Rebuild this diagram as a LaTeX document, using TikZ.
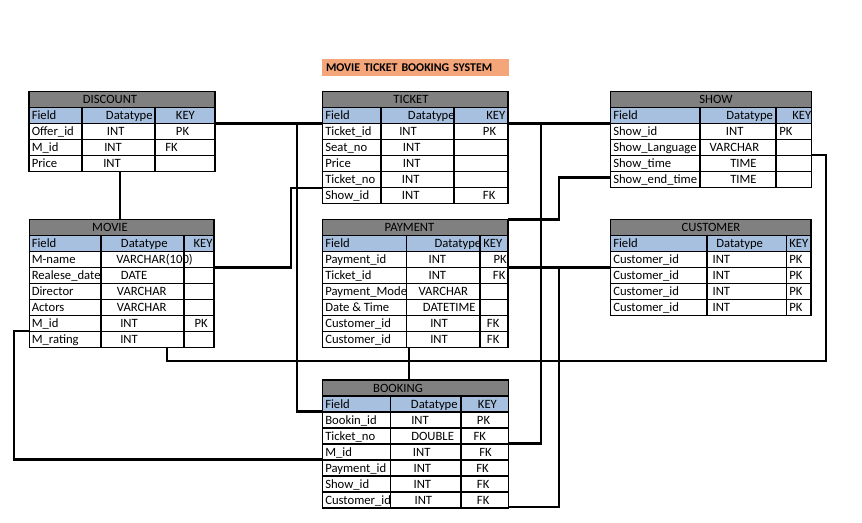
\documentclass[tikz,border=0pt]{standalone}
\usepackage{fontspec}
\setmainfont{Carlito}
\usetikzlibrary{fit}

\definecolor{titlegray}{HTML}{808080}
\definecolor{headblue}{HTML}{A8C0DF}
\definecolor{bannersalmon}{HTML}{F4A57A}

\tikzset{
  grid/.style={draw=black, line width=0.8pt},
  link/.style={draw=black, line width=1.6pt, line join=miter},
  celltext/.style={anchor=west, inner sep=0pt, font=\fontsize{9.5}{10}\selectfont,
    text height=7.6pt, text depth=1.5pt},
  tabletitle/.style={celltext, anchor=center},
  banner/.style={fill=bannersalmon, minimum width=140.25pt, minimum height=12.75pt,
    inner xsep=3pt, inner ysep=0pt, text width=134.25pt, align=left,
    font=\fontsize{8.9}{10}\selectfont\bfseries},
}

% #1 name, #2 title, #3 title centre x, #4 left, #5 first divider,
% #6 second divider, #7 right, #8 top, #9 number of data rows
\newcommand{\dbtable}[9]{%
  \pgfmathsetmacro{\tbot}{#8+32+16*#9}
  \fill[titlegray] (#4,#8) rectangle (#7,#8+16);
  \fill[headblue] (#4,#8+16) rectangle (#7,#8+32);
  \foreach \r in {0,...,#9} \draw[grid] (#4,#8+16+16*\r) -- (#7,#8+16+16*\r);
  \draw[grid] (#5,#8+16) -- (#5,\tbot);
  \draw[grid] (#6,#8+16) -- (#6,\tbot);
  \draw[grid] (#4,#8) rectangle (#7,\tbot);
  \node[fit={(#4,#8) (#7,\tbot)}, inner sep=0pt] (#1) {};
  \node[tabletitle] (#1-title) at (#3,#8+8) {#2};
}

% one line of a table: y, field x, field, type x, type, key x, key
\newcommand{\rowtext}[7]{%
  \node[celltext] at (#2,#1) {#3};
  \node[celltext] at (#4,#1) {#5};
  \node[celltext] at (#6,#1) {#7};
}

\begin{document}
\begin{tikzpicture}[x=0.75pt, y=-0.75pt]
\useasboundingbox (0,0) rectangle (862,522);

\node[banner] (banner) at (415.5,67.5) {MOVIE TICKET BOOKING SYSTEM};

% ---------- tables ----------
\dbtable{discount}{DISCOUNT}{110}{29}{82}{155}{215}{91.5}{3}
\rowtext{115.5}{31.5}{Field}{105.7}{Datatype}{175.7}{KEY}
\rowtext{131.5}{31.5}{Offer\_id}{106.7}{INT}{175.7}{PK}
\rowtext{147.5}{31.5}{M\_id}{104}{INT}{165}{FK}
\rowtext{163.5}{31.5}{Price}{103}{INT}{175}{}

\dbtable{ticket}{TICKET}{411}{322.7}{381}{454}{508}{91.5}{5}
\rowtext{115.5}{325}{Field}{407.7}{Datatype}{486}{KEY}
\rowtext{131.5}{325}{Ticket\_id}{399}{INT}{482.7}{PK}
\rowtext{147.5}{325}{Seat\_no}{402.7}{INT}{482.7}{}
\rowtext{163.5}{325}{Price}{402.7}{INT}{482.7}{}
\rowtext{179.5}{325}{Ticket\_no}{401.7}{INT}{482.7}{}
\rowtext{195.5}{325}{Show\_id}{401.7}{INT}{482.7}{FK}

\dbtable{show}{SHOW}{716}{610.7}{700}{776}{811.7}{91.5}{4}
\rowtext{115.5}{613}{Field}{726}{Datatype}{792}{KEY}
\rowtext{131.5}{613}{Show\_id}{725.7}{INT}{779}{PK}
\rowtext{147.5}{613}{Show\_Language}{709.3}{VARCHAR}{779}{}
\rowtext{163.5}{613}{Show\_time}{730}{TIME}{779}{}
\rowtext{179.5}{613}{Show\_end\_time}{730}{TIME}{779}{}

\dbtable{movie}{MOVIE}{110}{29.3}{101}{184}{214}{219.5}{6}
\rowtext{243.5}{31.5}{Field}{120.7}{Datatype}{193.3}{KEY}
\rowtext{259.5}{31.5}{M-name}{116}{VARCHAR(100)}{194.3}{}
\rowtext{275.5}{31.5}{Realese\_date}{120.7}{DATE}{194.3}{}
\rowtext{291.5}{31.5}{Director}{116.7}{VARCHAR}{194.3}{}
\rowtext{307.5}{31.5}{Actors}{116.7}{VARCHAR}{194.3}{}
\rowtext{323.5}{31.5}{M\_id}{120}{INT}{194.3}{PK}
\rowtext{339.5}{31.5}{M\_rating}{120}{INT}{194.3}{}

\dbtable{payment}{PAYMENT}{409.5}{322.7}{406.7}{480}{508}{219.5}{6}
\rowtext{243.5}{325}{Field}{434.3}{Datatype}{483}{KEY}
\rowtext{259.5}{325}{Payment\_id}{428.3}{INT}{493.3}{PK}
\rowtext{275.5}{325}{Ticket\_id}{428.3}{INT}{492.7}{FK}
\rowtext{291.5}{325}{Payment\_Mode}{418.3}{VARCHAR}{492.7}{}
\rowtext{307.5}{325}{Date \& Time}{422.7}{DATETIME}{492.7}{}
\rowtext{323.5}{325}{Customer\_id}{430}{INT}{486.7}{FK}
\rowtext{339.5}{325}{Customer\_id}{430}{INT}{486.7}{FK}

\dbtable{customer}{CUSTOMER}{711}{610.7}{707}{786.7}{811}{219.5}{4}
\rowtext{243.5}{613}{Field}{716}{Datatype}{789}{KEY}
\rowtext{259.5}{613}{Customer\_id}{712.3}{INT}{789}{PK}
\rowtext{275.5}{613}{Customer\_id}{712.3}{INT}{789}{PK}
\rowtext{291.5}{613}{Customer\_id}{712.3}{INT}{789}{PK}
\rowtext{307.5}{613}{Customer\_id}{712.3}{INT}{789}{PK}

\dbtable{booking}{BOOKING}{398}{322.7}{390.7}{461}{508.3}{380}{6}
\rowtext{404}{325}{Field}{410.7}{Datatype}{477.7}{KEY}
\rowtext{420}{325}{Bookin\_id}{411}{INT}{476.7}{PK}
\rowtext{436}{325}{Ticket\_no}{411}{DOUBLE}{473.3}{FK}
\rowtext{452}{325}{M\_id}{412.7}{INT}{479}{FK}
\rowtext{468}{325}{Payment\_id}{413.3}{INT}{476}{FK}
\rowtext{484}{325}{Show\_id}{413.3}{INT}{476.7}{FK}
\rowtext{500}{325}{Customer\_id}{414.3}{INT}{476.7}{FK}

% ---------- relationship lines ----------
\coordinate (jOffer) at (297,123.5);
\coordinate (jBook) at (297,411.5);
\coordinate (jShowA) at (291,188);
\coordinate (jShowB) at (291,267.5);
\coordinate (jDisc) at (120,0);
\coordinate (jMidA) at (14,331);
\coordinate (jMidB) at (14,459.5);
\coordinate (jRateA) at (167,361);
\coordinate (jRateB) at (826,361);
\coordinate (jRateC) at (826,155);
\coordinate (jTick) at (541,123.5);
\coordinate (jTickB) at (541,443.5);
\coordinate (jEndA) at (559,219.5);
\coordinate (jEndB) at (559,177.5);
\coordinate (jCust) at (559,267.5);
\coordinate (jCustB) at (559,507);
\coordinate (jPay) at (409.3,0);

\draw[link] (discount.east |- jOffer) -- (ticket.west |- jOffer);
\draw[link] (jOffer) -- (jBook) -- (booking.west |- jBook);
\draw[link] (ticket.west |- jShowA) -- (jShowA) -- (jShowB) -- (movie.east |- jShowB);
\draw[link] (discount.south -| jDisc) -- (movie.north -| jDisc);
\draw[link] (movie.west |- jMidA) -- (jMidA) -- (jMidB) -- (booking.west |- jMidB);
\draw[link] (movie.south -| jRateA) -- (jRateA) -- (jRateB) -- (jRateC) -- (show.east |- jRateC);
\draw[link] (ticket.east |- jTick) -- (show.west |- jTick);
\draw[link] (jTick) -- (jTickB) -- (booking.east |- jTickB);
\draw[link] (payment.east |- jEndA) -- (jEndA) -- (jEndB) -- (show.west |- jEndB);
\draw[link] (payment.east |- jCust) -- (customer.west |- jCust);
\draw[link] (jCust) -- (jCustB) -- (booking.east |- jCustB);
\draw[link] (payment.south -| jPay) -- (booking.north -| jPay);
\end{tikzpicture}
\end{document}
